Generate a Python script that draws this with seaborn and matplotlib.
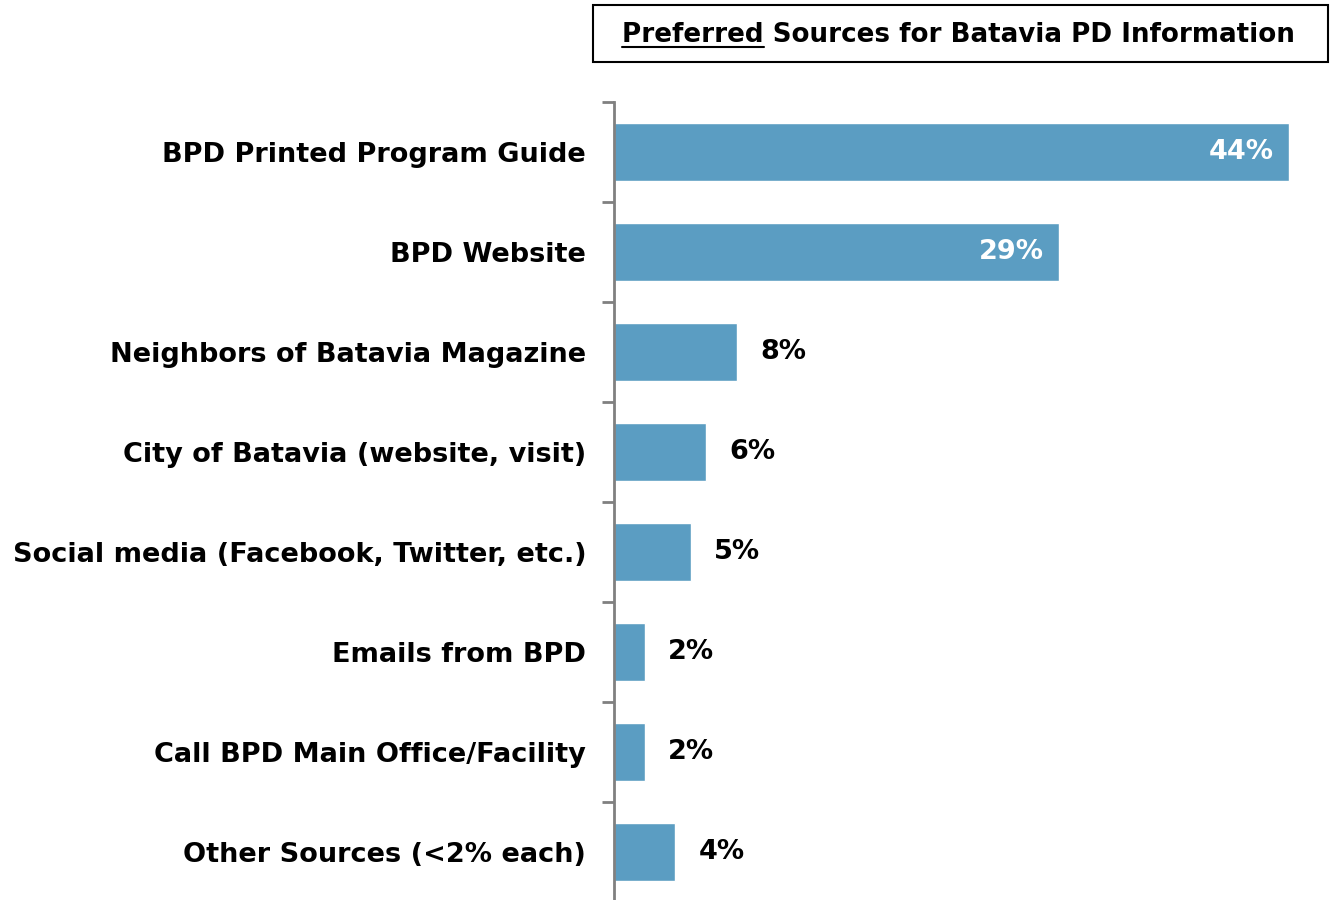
import matplotlib
matplotlib.use("Agg")
import matplotlib.pyplot as plt
import seaborn as sns
import pandas as pd
from matplotlib.patches import Rectangle
from matplotlib.lines import Line2D

# data
sources = [
    "BPD Printed Program Guide",
    "BPD Website",
    "Neighbors of Batavia Magazine",
    "City of Batavia (website, visit)",
    "Social media (Facebook, Twitter, etc.)",
    "Emails from BPD",
    "Call BPD Main Office/Facility",
    "Other Sources (<2% each)",
]
pct = [44, 29, 8, 6, 5, 2, 2, 4]
value_labels = ["44%", "29%", "8%", "6%", "5%", "2%", "2%", "4%"]

df = pd.DataFrame({"source": sources, "pct": pct})

sns.set_theme(style="white")
plt.rcParams["font.family"] = ["DejaVu Sans"]
plt.rcParams["font.weight"] = "bold"

W, H = 1330, 900
fig = plt.figure(figsize=(W / 100, H / 100), dpi=100)
ax = fig.add_axes([614 / W, 0, (1320 - 614) / W, 1 - 102 / H])

bar_color = "#5B9DC2"
sns.barplot(data=df, y="source", x="pct", orient="h", color=bar_color,
            width=0.58, saturation=1, ax=ax)

ax.set_xlim(0, 46)
ax.set_ylim(7.48, -0.5)
ax.set_xlabel("")
ax.set_ylabel("")
ax.set_xticks([])

for s in ["top", "right", "bottom"]:
    ax.spines[s].set_visible(False)
ax.spines["left"].set_color("#808080")
ax.spines["left"].set_linewidth(2)

# category labels at centers, tick marks at the boundaries
fs = 19.5
ax.set_yticks(range(len(sources)))
ax.set_yticklabels(sources, fontsize=fs, fontweight="bold", color="black")
ax.tick_params(axis="y", which="major", length=0, pad=20)
ax.set_yticks([i - 0.5 for i in range(len(sources))], minor=True)
ax.tick_params(axis="y", which="minor", length=9, width=2, color="#808080", left=True)

# value labels
for i, (v, lab) in enumerate(zip(pct, value_labels)):
    if v >= 20:
        ax.annotate(lab, (v, i), xytext=(-11, 0), textcoords="offset points",
                    ha="right", va="center", color="white", fontsize=fs, fontweight="bold")
    else:
        ax.annotate(lab, (v, i), xytext=(17, 0), textcoords="offset points",
                    ha="left", va="center", color="black", fontsize=fs, fontweight="bold")

# title box with underlined first word
fig.patches.append(Rectangle((593 / W, 1 - 62 / H), (1328 - 593) / W, 57 / H,
                             transform=fig.transFigure, fill=False,
                             edgecolor="black", linewidth=1.5))
tx, ty = 622 / W, 1 - 35 / H
tfs = 18.8
title = fig.text(tx, ty, "Preferred Sources for Batavia PD Information",
                 ha="left", va="center", fontsize=tfs, fontweight="bold", color="black")
probe = fig.text(tx, ty, "Preferred", ha="left", va="center", fontsize=tfs,
                 fontweight="bold")
fig.canvas.draw()
bb = probe.get_window_extent()
tb = title.get_window_extent()
probe.remove()
uy = (tb.y0 + 1) / H
fig.lines.append(Line2D([bb.x0 / W, bb.x1 / W], [uy, uy], transform=fig.transFigure,
                        color="black", linewidth=1.5))

fig.savefig("out.png", dpi=100)
